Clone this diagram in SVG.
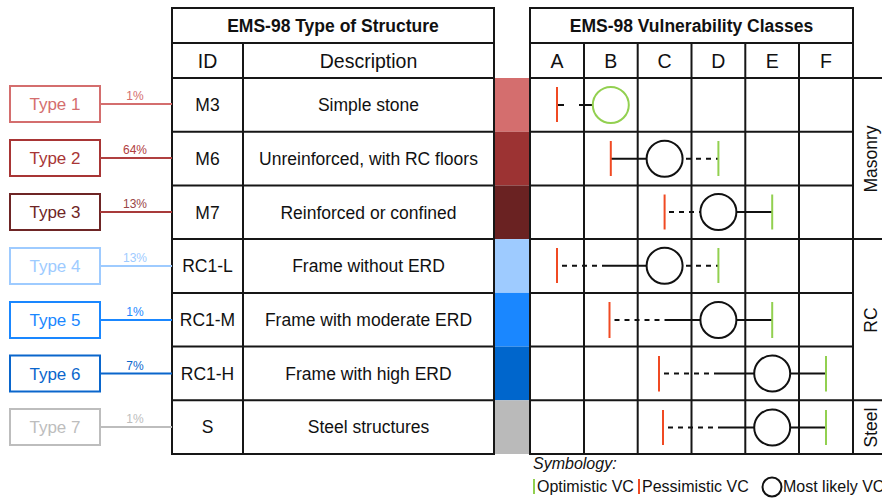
<svg xmlns="http://www.w3.org/2000/svg" width="882" height="498" viewBox="0 0 882 498">
  <defs>
    <style>
      text { font-family: "Liberation Sans", Arial, sans-serif; fill: #111; }
      .grid { stroke: #161616; stroke-width: 2; fill: none; }
      .hdr { font-size: 17.5px; font-weight: bold; text-anchor: middle; }
      .sub { font-size: 19.5px; text-anchor: middle; }
      .cell { font-size: 17.5px; text-anchor: middle; }
      .grp { font-size: 17.5px; text-anchor: middle; }
      .lbl { font-size: 17px; text-anchor: middle; }
      .pct { font-size: 12px; text-anchor: middle; }
      .box { fill: #fff; stroke-width: 2; }
      .link { stroke-width: 2; fill: none; }
      .pess { stroke: #f04a23; stroke-width: 2; }
      .opt { stroke: #92d050; stroke-width: 2; }
      .solid { stroke: #111; stroke-width: 2; fill: none; }
      .dash { stroke: #111; stroke-width: 2; fill: none; stroke-dasharray: 5 5; }
      .ml { stroke: #111; stroke-width: 2; fill: #fff; }
      .legend { font-size: 16px; }
    </style>
  </defs>

  <!-- Structure type table -->
  <g id="structure-table">
    <rect x="172" y="8" width="322" height="446" fill="#fff"/>
    <path class="grid" d="M172 8H494V454H172Z M172 43H494 M172 78H494 M172 131.7H494 M172 185.4H494 M172 239.1H494 M172 292.9H494 M172 346.6H494 M172 400.3H494 M243 43V454"/>
    <text class="hdr" x="333" y="31.7">EMS-98 Type of Structure</text>
    <text class="sub" x="207.5" y="67.5">ID</text>
    <text class="sub" x="368.5" y="67.5">Description</text>
    <text class="cell" x="207.5" y="111">M3</text>
    <text class="cell" x="368.5" y="111">Simple stone</text>
    <text class="cell" x="207.5" y="164.8">M6</text>
    <text class="cell" x="368.5" y="164.8">Unreinforced, with RC floors</text>
    <text class="cell" x="207.5" y="218.5">M7</text>
    <text class="cell" x="368.5" y="218.5">Reinforced or confined</text>
    <text class="cell" x="207.5" y="272.2">RC1-L</text>
    <text class="cell" x="368.5" y="272.2">Frame without ERD</text>
    <text class="cell" x="207.5" y="325.9">RC1-M</text>
    <text class="cell" x="368.5" y="325.9">Frame with moderate ERD</text>
    <text class="cell" x="207.5" y="379.6">RC1-H</text>
    <text class="cell" x="368.5" y="379.6">Frame with high ERD</text>
    <text class="cell" x="207.5" y="433.4">S</text>
    <text class="cell" x="368.5" y="433.4">Steel structures</text>
  </g>

  <!-- Colour strip -->
  <g id="colour-strip">
    <rect x="495" y="78" width="34" height="53.7" fill="#d46e6e"/>
    <rect x="495" y="131.7" width="34" height="53.7" fill="#9c3333"/>
    <rect x="495" y="185.4" width="34" height="53.7" fill="#6a2222"/>
    <rect x="495" y="239.1" width="34" height="53.8" fill="#9ecbff"/>
    <rect x="495" y="292.9" width="34" height="53.7" fill="#1a87ff"/>
    <rect x="495" y="346.6" width="34" height="53.7" fill="#0066cc"/>
    <rect x="495" y="400.3" width="34" height="53.7" fill="#bababa"/>
  </g>

  <!-- Vulnerability class table -->
  <g id="vulnerability-table">
    <rect x="530" y="8" width="323" height="446" fill="#fff"/>
    <path class="grid" d="M530 8H853V454H530Z M530 43H853 M530 78H882 M530 131.7H853 M530 185.4H853 M530 239.1H882 M530 292.9H853 M530 346.6H853 M530 400.3H882 M853 454H882 M584 43V454 M637.7 43V454 M691.5 43V454 M745.3 43V454 M799 43V454"/>
    <text class="hdr" x="691.5" y="31.7">EMS-98 Vulnerability Classes</text>
    <text class="sub" x="557" y="67.5">A</text>
    <text class="sub" x="610.8" y="67.5">B</text>
    <text class="sub" x="664.6" y="67.5">C</text>
    <text class="sub" x="718.4" y="67.5">D</text>
    <text class="sub" x="772.2" y="67.5">E</text>
    <text class="sub" x="826" y="67.5">F</text>
    <text class="grp" transform="translate(876.5 159) rotate(-90)">Masonry</text>
    <text class="grp" transform="translate(876.5 320) rotate(-90)">RC</text>
    <text class="grp" transform="translate(876.5 427.5) rotate(-90)">Steel</text>
  </g>

  <!-- Type labels -->
  <g id="type-1">
    <rect class="box" x="10" y="86" width="90" height="36" stroke="#d46e6e"/>
    <text class="lbl" x="55" y="110" style="fill:#d46e6e">Type 1</text>
  </g>
  <g id="type-2">
    <rect class="box" x="10" y="140" width="90" height="36" stroke="#a83535"/>
    <text class="lbl" x="55" y="164" style="fill:#a83535">Type 2</text>
  </g>
  <g id="type-3">
    <rect class="box" x="10" y="194" width="90" height="36" stroke="#6e2525"/>
    <text class="lbl" x="55" y="218" style="fill:#6e2525">Type 3</text>
  </g>
  <g id="type-4">
    <rect class="box" x="10" y="248" width="90" height="36" stroke="#9ecbff"/>
    <text class="lbl" x="55" y="272" style="fill:#9ecbff">Type 4</text>
  </g>
  <g id="type-5">
    <rect class="box" x="10" y="302" width="90" height="36" stroke="#1a87ff"/>
    <text class="lbl" x="55" y="326" style="fill:#1a87ff">Type 5</text>
  </g>
  <g id="type-6">
    <rect class="box" x="10" y="355.5" width="90" height="36" stroke="#0a66cc"/>
    <text class="lbl" x="55" y="379.5" style="fill:#0a66cc">Type 6</text>
  </g>
  <g id="type-7">
    <rect class="box" x="10" y="409" width="90" height="36" stroke="#bdbdbd"/>
    <text class="lbl" x="55" y="433" style="fill:#bdbdbd">Type 7</text>
  </g>

  <!-- Links from type labels to the table, with shares -->
  <g id="connectors">
    <path class="link" d="M100 104H172" stroke="#d46e6e"/>
    <text class="pct" x="135" y="100" style="fill:#d46e6e">1%</text>
    <path class="link" d="M100 158H172" stroke="#b04040"/>
    <text class="pct" x="135" y="154" style="fill:#b04040">64%</text>
    <path class="link" d="M100 212H172" stroke="#a83a3a"/>
    <text class="pct" x="135" y="208" style="fill:#9a4545">13%</text>
    <path class="link" d="M100 266H172" stroke="#9ecbff"/>
    <text class="pct" x="135" y="262" style="fill:#9ecbff">13%</text>
    <path class="link" d="M100 320H172" stroke="#1a87ff"/>
    <text class="pct" x="135" y="316" style="fill:#1a87ff">1%</text>
    <path class="link" d="M100 373.5H172" stroke="#0a66cc"/>
    <text class="pct" x="135" y="369.5" style="fill:#0a66cc">7%</text>
    <path class="link" d="M100 427H172" stroke="#bdbdbd"/>
    <text class="pct" x="135" y="423" style="fill:#bdbdbd">1%</text>
  </g>

  <!-- Vulnerability ranges: pessimistic | most likely O | optimistic -->
  <g id="ranges">
    <!-- M3 -->
    <path class="solid" d="M557 105H564 M579 105H592.5"/>
    <line class="pess" x1="557" y1="87" x2="557" y2="122"/>
    <circle cx="610.8" cy="105" r="18" fill="#fff" stroke="#92d050" stroke-width="2"/>
    <!-- M6 -->
    <path class="solid" d="M610.8 158.7H646.6"/>
    <path class="dash" d="M686 158.7H718.4"/>
    <line class="pess" x1="610.8" y1="141" x2="610.8" y2="176"/>
    <line class="opt" x1="718.4" y1="141" x2="718.4" y2="176"/>
    <circle class="ml" cx="664.6" cy="158.7" r="18"/>
    <!-- M7 -->
    <path class="dash" d="M669 212H700.4"/>
    <path class="solid" d="M736.4 212H772.2"/>
    <line class="pess" x1="664.6" y1="194.5" x2="664.6" y2="229.5"/>
    <line class="opt" x1="772.2" y1="194.5" x2="772.2" y2="229.5"/>
    <circle class="ml" cx="718.4" cy="212" r="18"/>
    <!-- RC1-L -->
    <path class="dash" d="M562 265.7H606"/>
    <path class="solid" d="M606 265.7H646.6"/>
    <path class="dash" d="M686 265.7H718.4"/>
    <line class="pess" x1="557" y1="248" x2="557" y2="283"/>
    <line class="opt" x1="718.4" y1="248" x2="718.4" y2="283"/>
    <circle class="ml" cx="664.6" cy="265.7" r="18"/>
    <!-- RC1-M -->
    <path class="dash" d="M614.5 320H665"/>
    <path class="solid" d="M665 320H700.4"/>
    <path class="solid" d="M736.4 320H772.2"/>
    <line class="pess" x1="609.5" y1="302" x2="609.5" y2="338"/>
    <line class="opt" x1="772.2" y1="302" x2="772.2" y2="338"/>
    <circle class="ml" cx="718.4" cy="320" r="18"/>
    <!-- RC1-H -->
    <path class="dash" d="M664 373.5H715"/>
    <path class="solid" d="M715 373.5H754.2"/>
    <path class="solid" d="M790.2 373.5H826"/>
    <line class="pess" x1="659" y1="356" x2="659" y2="391.5"/>
    <line class="opt" x1="826" y1="356" x2="826" y2="391.5"/>
    <circle class="ml" cx="772.2" cy="373.5" r="18"/>
    <!-- S -->
    <path class="dash" d="M668 427.5H718"/>
    <path class="solid" d="M718 427.5H754.2"/>
    <path class="solid" d="M790.2 427.5H826"/>
    <line class="pess" x1="663" y1="410" x2="663" y2="445"/>
    <line class="opt" x1="826" y1="410" x2="826" y2="445"/>
    <circle class="ml" cx="772.2" cy="427.5" r="18"/>
  </g>

  <!-- Symbology -->
  <g id="legend">
    <text class="legend" x="533" y="469" font-style="italic">Symbology:</text>
    <line class="opt" x1="534" y1="479" x2="534" y2="494"/>
    <text class="legend" x="537" y="492">Optimistic VC</text>
    <line class="pess" x1="639" y1="479" x2="639" y2="494"/>
    <text class="legend" x="642" y="492">Pessimistic VC</text>
    <circle class="ml" cx="772" cy="487" r="9.5"/>
    <text class="legend" x="783" y="492">Most likely VC</text>
  </g>
</svg>
